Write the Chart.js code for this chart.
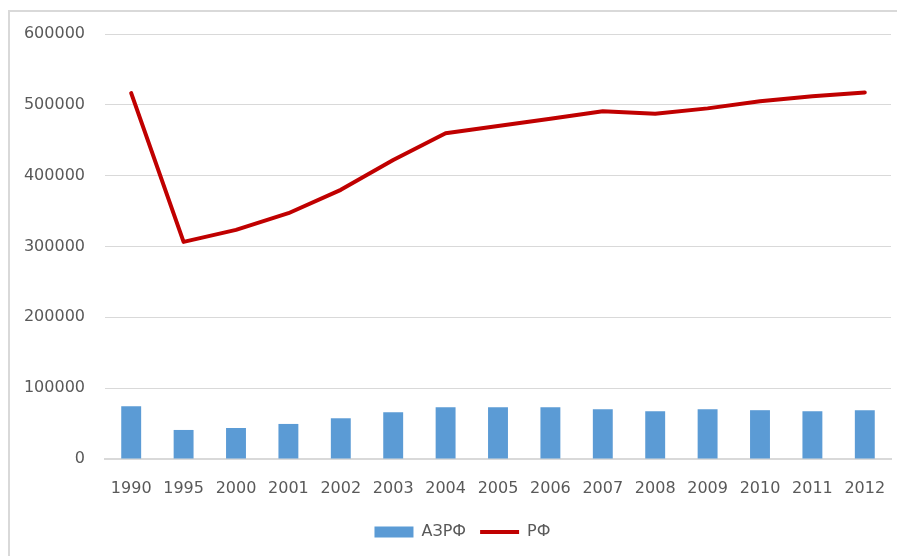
<!DOCTYPE html>
<html>
<head>
<meta charset="utf-8">
<script src="https://cdn.jsdelivr.net/npm/chart.js@4/dist/chart.umd.min.js"></script>
<style>
  html, body { margin: 0; padding: 0; background: #fff; width: 897px; height: 556px; overflow: hidden; }
  canvas { display: block; }
</style>
</head>
<body>
<canvas id="c" width="897" height="556"></canvas>
<script>
const years = ['1990','1995','2000','2001','2002','2003','2004','2005','2006','2007','2008','2009','2010','2011','2012'];
const azrf = [74500, 41000, 43800, 49500, 57500, 66000, 73100, 73100, 73100, 70300, 67400, 70300, 68900, 67400, 68900];
const rf = [516500, 306500, 323500, 347000, 380000, 422000, 460000, 470000, 480500, 491000, 487500, 495000, 505000, 512000, 517500];
const seriesNames = ['АЗРФ', 'РФ'];
const yMin = 0, yMax = 600000, yStep = 100000;

const font = { family: 'DejaVu Sans', size: 16 };
const textColor = '#595959';

const framePlugin = {
  id: 'frame',
  afterLayout(chart) {
    const lg = chart.legend;
    if (lg) { lg.left += 17; lg.right += 17; }
  },
  beforeDraw(chart) {
    const ctx = chart.ctx;
    ctx.save();
    ctx.strokeStyle = '#d9d9d9';
    ctx.lineWidth = 2;
    ctx.beginPath();
    ctx.moveTo(9, 556);
    ctx.lineTo(9, 11);
    ctx.lineTo(897, 11);
    ctx.stroke();
    ctx.restore();
  }
};

new Chart(document.getElementById('c'), {
  type: 'bar',
  data: {
    labels: years,
    datasets: [
      {
        label: seriesNames[0],
        data: azrf,
        backgroundColor: '#5b9bd5',
        borderWidth: 0,
        categoryPercentage: 1,
        barPercentage: 0.38,
        pointStyle: 'rect'
      },
      {
        type: 'line',
        label: seriesNames[1],
        data: rf,
        borderColor: '#c00000',
        backgroundColor: '#c00000',
        borderWidth: 4,
        tension: 0,
        pointRadius: 0,
        pointHoverRadius: 0,
        borderCapStyle: 'round',
        borderJoinStyle: 'round',
        pointStyle: 'line'
      }
    ]
  },
  plugins: [framePlugin],
  options: {
    responsive: false,
    animation: false,
    layout: { padding: { left: 0, right: 6, top: 34, bottom: 6 } },
    plugins: {
      tooltip: { enabled: false },
      legend: {
        position: 'bottom',
        labels: {
          usePointStyle: true,
          pointStyleWidth: 39,
          boxHeight: 11,
          color: textColor,
          font: font,
          padding: 14
        }
      }
    },
    scales: {
      x: {
        grid: { display: false, drawTicks: false },
        border: { display: true, color: '#d9d9d9', width: 2 },
        ticks: { color: textColor, font: font, padding: 20, maxRotation: 0, autoSkip: false },
        afterFit: (s) => { s.height = 51; s.paddingLeft = 0; s.paddingRight = 0; }
      },
      y: {
        min: yMin, max: yMax,
        grid: { color: '#d9d9d9', lineWidth: 1, drawTicks: false },
        border: { display: false },
        ticks: { stepSize: yStep, color: textColor, font: font, padding: 20,
                 callback: (v) => String(v) },
        afterFit: (s) => { s.width = 105; s.paddingTop = 0; s.paddingBottom = 0; }
      }
    }
  }
});
</script>
</body>
</html>
